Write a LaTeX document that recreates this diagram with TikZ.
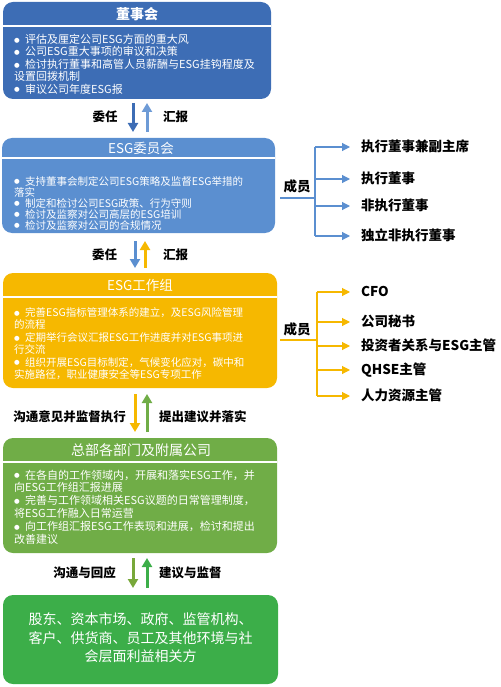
\documentclass[tikz,border=0pt]{standalone}
\usepackage{fontspec}
\setmainfont{Noto Sans CJK SC}
\newfontfamily\dejavu{DejaVu Sans}
\usetikzlibrary{arrows.meta}
\definecolor{cA}{HTML}{3D6DB5}
\definecolor{cAup}{HTML}{6E9BD6}
\definecolor{cB}{HTML}{5B8FD0}
\definecolor{cY}{HTML}{F6B800}
\definecolor{cG}{HTML}{70AD47}
\definecolor{cGd}{HTML}{78A83A}
\definecolor{cBG}{HTML}{3CAE49}
\newcommand{\bul}{\makebox[11pt][l]{\raisebox{1.2pt}{\dejavu\fontsize{6.5}{6.5}\selectfont ●}}}
\newcommand{\bfirst}{\hangindent=11pt\hangafter=1\noindent\bul}
\newcommand{\bitem}{\par\hangindent=11pt\hangafter=1\noindent\bul}
\tikzset{
  boxst/.style={rounded corners=10pt, inner sep=0pt, draw=none},
  sepline/.style={white, line width=1.6pt},
  headst/.style={white, font=\fontsize{13.5}{14}\selectfont, inner sep=0pt},
  bodyst/.style={white, text width=255pt, inner sep=0pt, anchor=base west},
  varrow/.style={line width=3pt, -{Triangle[width=10pt,length=9pt]}},
  lbl/.style={font=\bfseries\fontsize{12.5}{13}\selectfont, inner sep=0pt},
  mem/.style={font=\bfseries\fontsize{13.5}{14}\selectfont, inner sep=0pt, anchor=west, text height=10.5pt, text depth=2pt},
  brl/.style={line width=1.1pt},
  brarrow/.style={line width=1.1pt, -{Triangle[width=8pt,length=8pt]}, shorten >=11pt}
}
\begin{document}
\begin{tikzpicture}[x=1pt,y=-1pt]
\useasboundingbox (0,0) rectangle (500,687);

% ---------- Box 1 ----------
\node[boxst, fill=cA, minimum width=268pt, minimum height=97pt] (b1) at (137,50.5) {};
\draw[sepline] (b1.west |- 0,26) -- (b1.east |- 0,26);
\node[headst, font=\bfseries\fontsize{14}{15}\selectfont] (h1) at (137,14) {董事会};
\node[bodyst, font=\fontsize{11}{12.4}\selectfont] (t1) at (14,43.5) {%
\bfirst 评估及厘定公司ESG方面的重大风
\bitem 公司ESG重大事项的审议和决策
\bitem 检讨执行董事和高管人员薪酬与ESG挂钩程度及\\设置回拨机制
\bitem 审议公司年度ESG报};

% ---------- arrows 1 ----------
\coordinate (a1s) at (133,103); \coordinate (a1e) at (133,132);
\coordinate (a2s) at (147,132); \coordinate (a2e) at (147,103);
\draw[varrow, cA] (a1s) -- (a1e);
\draw[varrow, cAup] (a2s) -- (a2e);
\node[lbl] (l1) at (105,117) {委任};
\node[lbl] (l2) at (175.5,117) {汇报};

% ---------- Box 2 ----------
\node[boxst, fill=cB, minimum width=273pt, minimum height=95pt] (b2) at (138.5,185.5) {};
\draw[sepline, line width=1.2pt] (b2.west |- 0,158) -- (b2.east |- 0,158);
\node[headst] (h2) at (141,148) {ESG委员会};
\node[bodyst, font=\fontsize{10.5}{11}\selectfont] (t2) at (14,185) {%
\bfirst 支持董事会制定公司ESG策略及监督ESG举措的\\落实
\bitem 制定和检讨公司ESG政策、行为守则
\bitem 检讨及监察对公司高层的ESG培训
\bitem 检讨及监察对公司的合规情况};

% members 1
\node[mem, anchor=center] (m1) at (297,187) {成员};
\node[mem] (p11) at (361,147) {执行董事兼副主席};
\node[mem] (p12) at (361,179) {执行董事};
\node[mem] (p13) at (361,206) {非执行董事};
\node[mem] (p14) at (361,236) {独立非执行董事};
\coordinate (m1s) at (280,198);
\coordinate (j1) at (315,198);
\draw[brl, cB] (m1s) -- (j1);
\draw[brl, cB] (j1 |- p11.west) -- (j1 |- p14.west);
\foreach \p in {p11,p12,p13,p14} \draw[brarrow, cB] (j1 |- \p.west) -- (\p.west);

% ---------- arrows 2 ----------
\coordinate (a3s) at (135,241); \coordinate (a3e) at (135,268);
\coordinate (a4s) at (145,268); \coordinate (a4e) at (145,241);
\draw[varrow, cB] (a3s) -- (a3e);
\draw[varrow, cY] (a4s) -- (a4e);
\node[lbl] (l3) at (104.5,255) {委任};
\node[lbl] (l4) at (175.5,255) {汇报};

% ---------- Box 3 ----------
\node[boxst, fill=cY, minimum width=274pt, minimum height=115pt] (b3) at (140,330.5) {};
\draw[sepline, line width=1.2pt] (b3.west |- 0,297) -- (b3.east |- 0,297);
\node[headst] (h3) at (140,285) {ESG工作组};
\node[bodyst, font=\fontsize{10.5}{12.4}\selectfont] (t3) at (14,316.5) {%
\bfirst 完善ESG指标管理体系的建立，及ESG风险管理\\的流程
\bitem 定期举行会议汇报ESG工作进度并对ESG事项进\\行交流
\bitem 组织开展ESG目标制定，气候变化应对，碳中和\\实施路径，职业健康安全等ESG专项工作};

% members 2
\node[mem, anchor=center] (m2) at (297,330) {成员};
\node[mem] (p21) at (361,292) {CFO};
\node[mem] (p22) at (361,322) {公司秘书};
\node[mem] (p23) at (361,346) {投资者关系与ESG主管};
\node[mem] (p24) at (361,370) {QHSE主管};
\node[mem] (p25) at (361,396) {人力资源主管};
\coordinate (m2s) at (280,340);
\coordinate (j2) at (317,340);
\draw[brl, cY] (m2s) -- (j2);
\draw[brl, cY] (j2 |- p21.west) -- (j2 |- p25.west);
\foreach \p in {p21,p22,p23,p24,p25} \draw[brarrow, cY] (j2 |- \p.west) -- (\p.west);

% ---------- arrows 3 ----------
\coordinate (a5s) at (135,394); \coordinate (a5e) at (135,432);
\coordinate (a6s) at (147,432); \coordinate (a6e) at (147,394);
\draw[varrow, cY] (a5s) -- (a5e);
\draw[varrow, cG] (a6s) -- (a6e);
\node[lbl, anchor=east] (l5) at (126,417) {沟通意见并监督执行};
\node[lbl, anchor=west] (l6) at (159,417) {提出建议并落实};

% ---------- Box 4 ----------
\node[boxst, fill=cG, minimum width=274pt, minimum height=115pt] (b4) at (140,495.5) {};
\draw[sepline, line width=1.2pt] (b4.west |- 0,462) -- (b4.east |- 0,462);
\node[headst, font=\fontsize{14}{15}\selectfont] (h4) at (141,450) {总部各部门及附属公司};
\node[bodyst, font=\fontsize{11}{12.8}\selectfont] (t4) at (14,479) {%
\bfirst 在各自的工作领域内，开展和落实ESG工作，并\\向ESG工作组汇报进展
\bitem 完善与工作领域相关ESG议题的日常管理制度，\\将ESG工作融入日常运营
\bitem 向工作组汇报ESG工作表现和进展，检讨和提出\\改善建议};

% ---------- arrows 4 ----------
\coordinate (a7s) at (133,558); \coordinate (a7e) at (133,588);
\coordinate (a8s) at (147,588); \coordinate (a8e) at (147,558);
\draw[varrow, cGd] (a7s) -- (a7e);
\draw[varrow, cBG] (a8s) -- (a8e);
\node[lbl, anchor=east] (l7) at (116,573) {沟通与回应};
\node[lbl, anchor=west] (l8) at (159,573) {建议与监督};

% ---------- Box 5 ----------
\node[boxst, fill=cBG, minimum width=275pt, minimum height=89pt] (b5) at (140.5,639.5) {};
\node[white, align=center, inner sep=0pt, font=\fontsize{14}{18.5}\selectfont] (t5) at (140.5,638) {股东、资本市场、政府、监管机构、\\客户、供货商、员工及其他环境与社\\会层面利益相关方};
\end{tikzpicture}
\end{document}
